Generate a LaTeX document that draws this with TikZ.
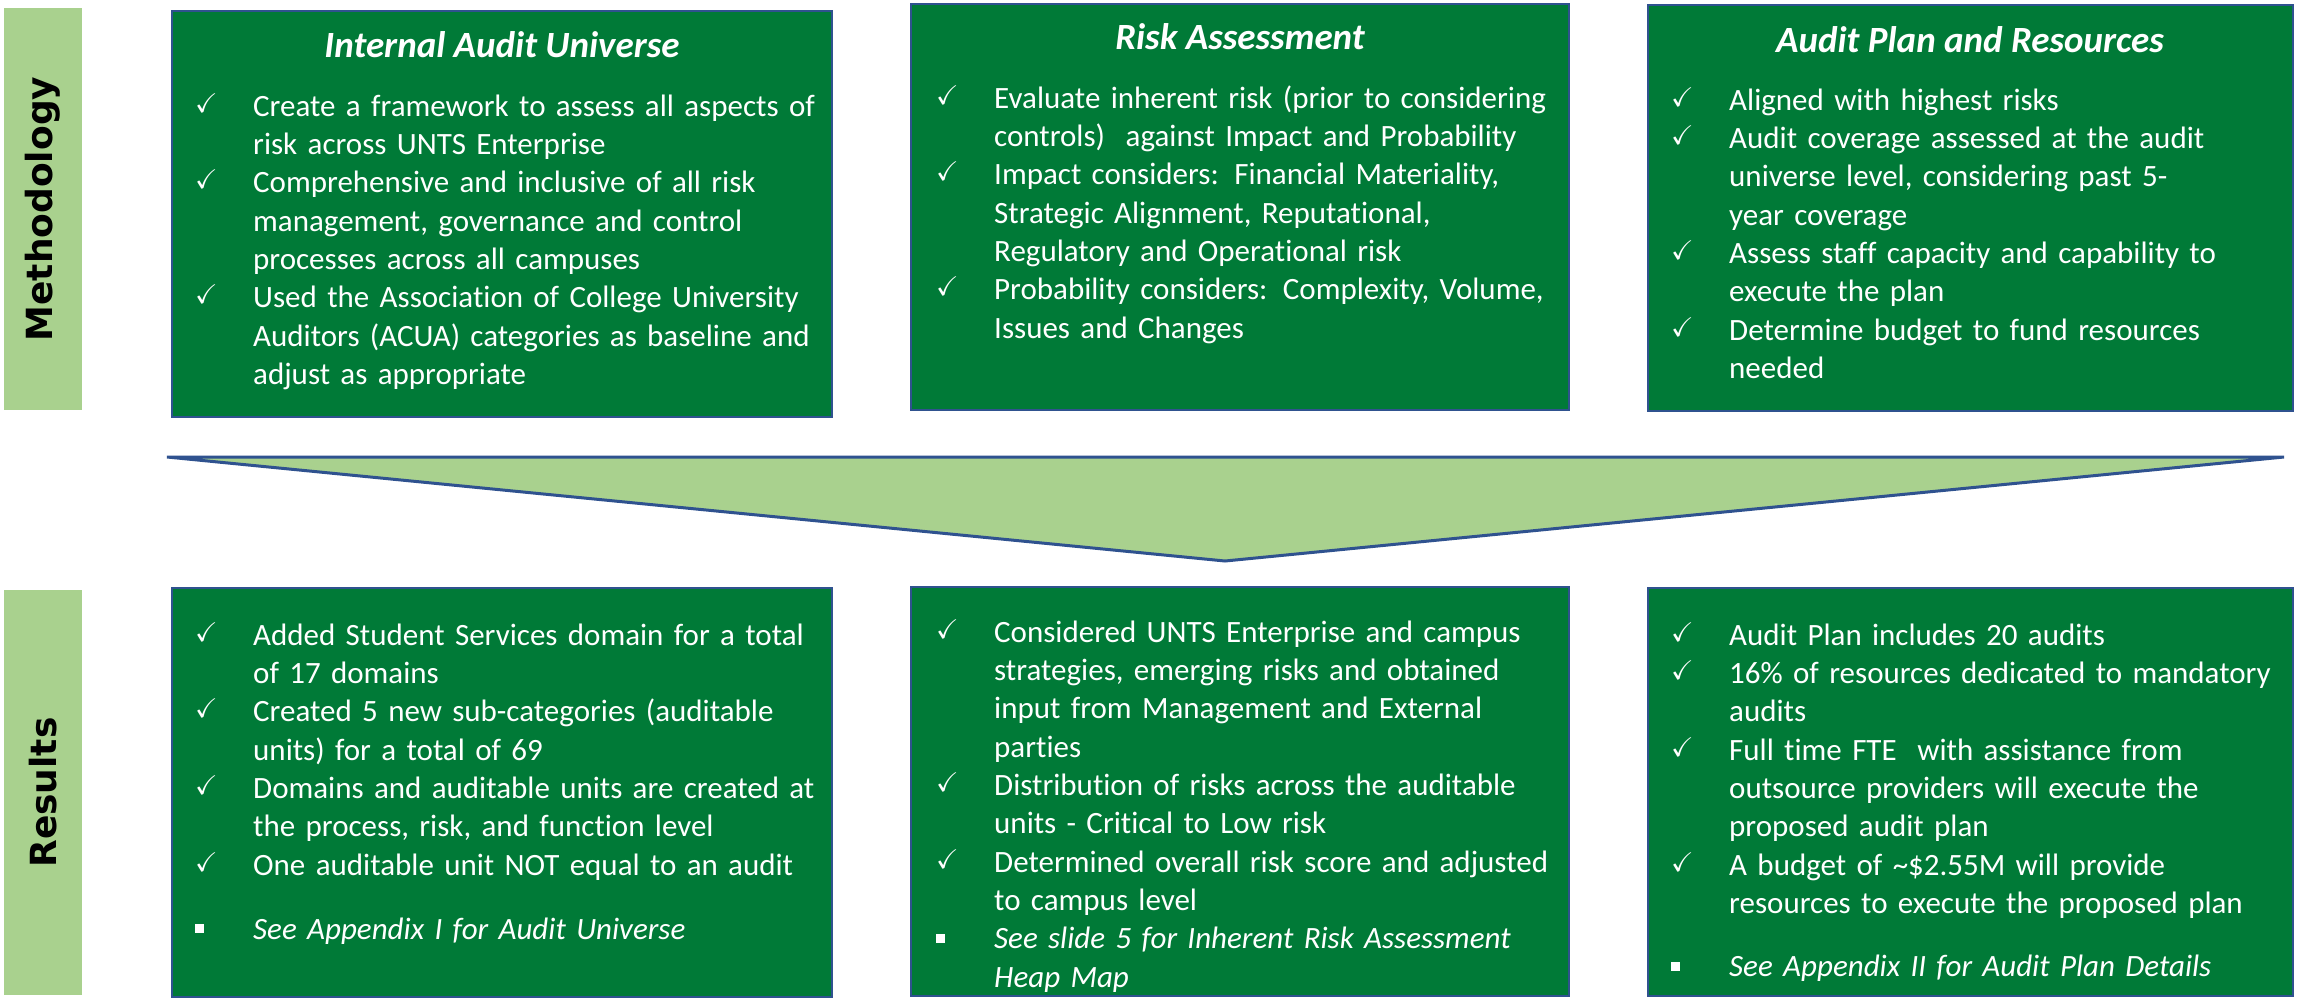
\documentclass[tikz,border=0pt]{standalone}
\usepackage{amssymb}
\usepackage{fontspec}
\setmainfont{Carlito}[Ligatures=NoCommon]
\newfontfamily\labelfont{DejaVu Sans Bold}
\definecolor{boxgreen}{HTML}{007A37}
\definecolor{barlight}{HTML}{A9D18E}
\definecolor{edgeblue}{HTML}{2F528F}
\newcommand\ckmark{\makebox[58pt][l]{\raisebox{4pt}{\fontsize{27}{27}\selectfont$\checkmark$}}}
\newcommand\sqmark{\makebox[58pt][l]{\raisebox{6pt}{\rule{9pt}{9pt}}}}
\newcommand\citem[1]{\par\hangindent=58pt\hangafter=1\noindent\ckmark#1}
\newcommand\sitem[1]{\par\hangindent=58pt\hangafter=1\noindent\sqmark\textit{#1}}
\newcommand\bodysetup{\raggedright\setlength\parindent{0pt}\setlength\parskip{0pt}}
\begin{document}
\begin{tikzpicture}[x=1pt,y=-1pt,
  gbox/.style={draw=edgeblue, line width=2.5pt, fill=boxgreen, inner sep=0pt, outer sep=0pt, anchor=north west},
  sidebar/.style={fill=barlight, draw=none, inner sep=0pt, outer sep=0pt, anchor=north west},
  sidelabel/.style={rotate=90, text=black, font=\labelfont\fontsize{36}{36}\selectfont, inner sep=0pt},
  ttl/.style={text=white, font=\fontsize{37}{37}\selectfont\bfseries\itshape, inner sep=0pt, anchor=base},
  body/.style={text=white, font=\fontsize{31}{38.3}\selectfont, text width=800pt, inner sep=0pt, anchor=base west, execute at begin node=\bodysetup},
  arrowshape/.style={fill=barlight, draw=edgeblue, line width=3pt, line join=miter}
]
\useasboundingbox (0,0) rectangle (2305,1002);
\fill[white] (0,0) rectangle (2305,1002);

% side bars
\node[sidebar, minimum width=78pt, minimum height=402pt] (mbar) at (4,8) {};
\node[sidebar, minimum width=78pt, minimum height=405pt] (rbar) at (4,590) {};
\node[sidelabel] (mlab) at (mbar.center) {Methodology};
\node[sidelabel] (rlab) at (rbar.center) {Results};

% top boxes
\node[gbox, minimum width=660pt, minimum height=406pt] (t1) at (172,11) {};
\node[gbox, minimum width=658pt, minimum height=406pt] (t2) at (911,4) {};
\node[gbox, minimum width=645pt, minimum height=406pt] (t3) at (1648,5) {};

% bottom boxes
\node[gbox, minimum width=660pt, minimum height=409pt] (b1) at (172,588) {};
\node[gbox, minimum width=658pt, minimum height=409pt] (b2) at (911,587) {};
\node[gbox, minimum width=645pt, minimum height=408pt] (b3) at (1648,588) {};

% arrow
\coordinate (al) at (167,457);
\coordinate (ar) at (2284,457);
\coordinate (at) at (1225,561);
\draw[arrowshape] (al) -- (ar) -- (at) -- cycle;

% titles
\node[ttl] (t1h) at (502,57) {Internal Audit Universe};
\node[ttl] (t2h) at (1240,49) {Risk Assessment};
\node[ttl] (t3h) at (1970,52) {Audit Plan and Resources};

% top bodies
\node[body] (t1b) at (195,78) {%
\citem{Create a framework to assess all aspects of\newline risk across UNTS Enterprise}
\citem{Comprehensive and inclusive of all risk\newline management, governance and control\newline processes across all campuses}
\citem{Used the Association of College University\newline Auditors (ACUA) categories as baseline and\newline adjust as appropriate}\par};

\node[body] (t2b) at (936,70) {%
\citem{Evaluate inherent risk (prior to considering\newline controls)\ \ against Impact and Probability}
\citem{Impact considers: Financial Materiality,\newline Strategic Alignment, Reputational,\newline Regulatory and Operational risk}
\citem{Probability considers: Complexity, Volume,\newline Issues and Changes}\par};

\node[body] (t3b) at (1671,72) {%
\citem{Aligned with highest risks}
\citem{Audit coverage assessed at the audit\newline universe level, considering past 5-\newline year coverage}
\citem{Assess staff capacity and capability to\newline execute the plan}
\citem{Determine budget to fund resources\newline needed}\par};

% bottom bodies
\node[body] (b1b) at (195,607) {%
\citem{Added Student Services domain for a total\newline of 17 domains}
\citem{Created 5 new sub-categories (auditable\newline units) for a total of 69}
\citem{Domains and auditable units are created at\newline the process, risk, and function level}
\citem{One auditable unit NOT equal to an audit}\par
\vspace{26pt}
\sitem{See Appendix I for Audit Universe}\par};

\node[body] (b2b) at (936,604) {%
\citem{Considered UNTS Enterprise and campus\newline strategies, emerging risks and obtained\newline input from Management and External\newline parties}
\citem{Distribution of risks across the auditable\newline units - Critical to Low risk}
\citem{Determined overall risk score and adjusted\newline to campus level}
\sitem{See slide 5 for Inherent Risk Assessment\newline Heap Map}\par};

\node[body] (b3b) at (1671,607) {%
\citem{Audit Plan includes 20 audits}
\citem{16\% of resources dedicated to mandatory\newline audits}
\citem{Full time FTE\ \ with assistance from\newline outsource providers will execute the\newline proposed audit plan}
\citem{A budget of \textasciitilde\$2.55M will provide\newline resources to execute the proposed plan}\par
\vspace{25pt}
\sitem{See Appendix II for Audit Plan Details}\par};
\end{tikzpicture}
\end{document}
